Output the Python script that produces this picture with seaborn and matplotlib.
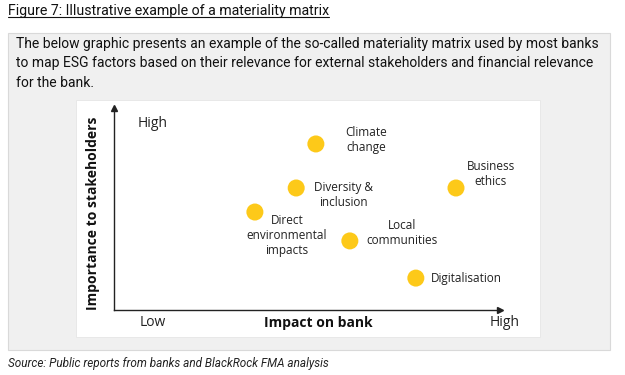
import pandas as pd
import matplotlib.pyplot as plt
import matplotlib.patches as mpatches
from matplotlib.lines import Line2D
import seaborn as sns

# ESG factors, position on a 0-10 scale (impact on bank, importance to stakeholders)
factors = ['Climate\nchange', 'Diversity &\ninclusion', 'Direct\nenvironmental\nimpacts',
           'Local\ncommunities', 'Business\nethics', 'Digitalisation']
impact = [5.23, 4.72, 3.65, 6.11, 8.86, 7.82]
importance = [8.22, 6.04, 4.85, 3.42, 6.04, 1.58]

# label offsets (points) and alignment for each factor
label_dx = [21, 13, 23, 12, 25, 11]
label_dy = [3, -5, -17, 6, 10, 0]
label_ha = ['left', 'left', 'center', 'left', 'center', 'left']

df = pd.DataFrame({'Factor': factors, 'Impact': impact, 'Importance': importance})

sns.set_style('white')
plt.rcParams['font.family'] = ['Open Sans', 'DejaVu Sans']
cond = ['Roboto', 'DejaVu Sans']

W, H = 625, 375
fig = plt.figure(figsize=(W / 100, H / 100), dpi=100)
fig.patch.set_facecolor('white')

def fx(px):
    return px / W

def fy(py):
    return 1 - py / H

# grey box and white panel
fig.add_artist(mpatches.Rectangle((fx(8), fy(350)), fx(610) - fx(8), fy(33) - fy(350),
                                  transform=fig.transFigure, facecolor='#f0f0f0',
                                  edgecolor='#d9d9d9', linewidth=0.8, zorder=0))
fig.add_artist(mpatches.Rectangle((fx(76), fy(337)), fx(540) - fx(76), fy(100) - fy(337),
                                  transform=fig.transFigure, facecolor='white',
                                  edgecolor='#e6e6e6', linewidth=0.6, zorder=0))

# title with underline
title = fig.text(fx(8), fy(11), 'Figure 7: Illustrative example of a materiality matrix',
                 family=cond, fontsize=10.2, va='center', ha='left', color='#111111')
para = ('The below graphic presents an example of the so-called materiality matrix used by most banks\n'
        'to map ESG factors based on their relevance for external stakeholders and financial relevance\n'
        'for the bank.')
fig.text(fx(16), fy(37), para, family=cond, fontsize=10.0, va='top', ha='left',
         color='#111111', linespacing=1.5)
fig.text(fx(8), fy(364), 'Source: Public reports from banks and BlackRock FMA analysis',
         family=cond, fontsize=8.5, style='italic', va='center', ha='left', color='#222222')

# chart axes
ax = fig.add_axes([fx(114), fy(310), fx(500) - fx(114), fy(108) - fy(310)])
ax.set_facecolor('none')
sns.scatterplot(data=df, x='Impact', y='Importance', s=150, color='#fdc919',
                edgecolor='none', ax=ax, zorder=3, clip_on=False)
ax.set_xlim(0, 10)
ax.set_ylim(0, 10)
ax.set_xticks([])
ax.set_yticks([])
ax.set_xlabel('')
ax.set_ylabel('')
for side in ['top', 'right']:
    ax.spines[side].set_visible(False)
for side in ['left', 'bottom']:
    ax.spines[side].set_color('#222222')
    ax.spines[side].set_linewidth(1.0)
ax.plot(1, 0, '>', color='#222222', markersize=4, transform=ax.transAxes, clip_on=False)
ax.plot(0, 1, '^', color='#222222', markersize=4, transform=ax.transAxes, clip_on=False)

for i, row in df.iterrows():
    ax.annotate(row['Factor'], (row['Impact'], row['Importance']),
                xytext=(label_dx[i], label_dy[i]), textcoords='offset points',
                ha=label_ha[i], va='center', multialignment='center',
                fontsize=8.5, color='#222222', linespacing=1.2)

# axis labels
fig.text(fx(153), fy(123), 'High', fontsize=10, ha='center', va='center', color='#222222')
fig.text(fx(153), fy(322), 'Low', fontsize=10, ha='center', va='center', color='#222222')
fig.text(fx(505), fy(322), 'High', fontsize=10, ha='center', va='center', color='#222222')
fig.text(fx(318), fy(323), 'Impact on bank', fontsize=10, weight='bold', ha='center',
         va='center', color='#111111')
fig.text(fx(93), fy(213), 'Importance to stakeholders', fontsize=10, weight='bold',
         rotation=90, ha='center', va='center', color='#111111')

fig.canvas.draw()
bb = title.get_window_extent().transformed(fig.transFigure.inverted())
fig.add_artist(Line2D([bb.x0, bb.x1], [bb.y0 + 0.002, bb.y0 + 0.002],
                      transform=fig.transFigure, color='#111111', linewidth=0.8))

fig.savefig('out.png', dpi=100)
